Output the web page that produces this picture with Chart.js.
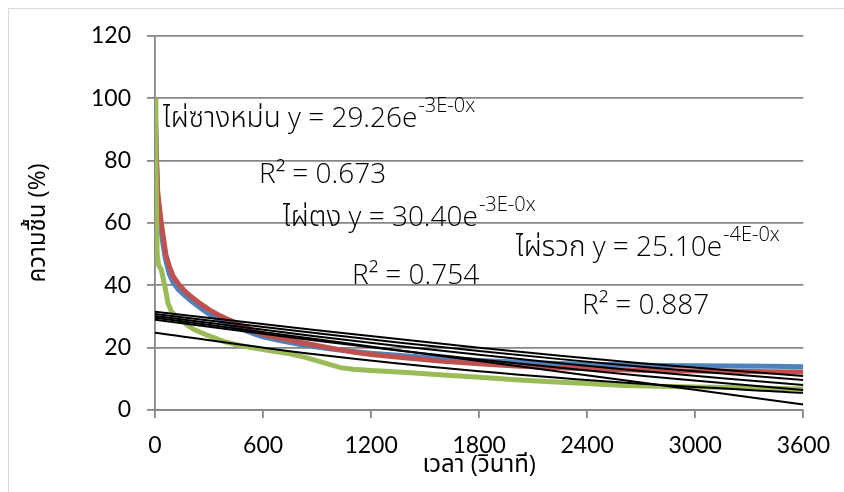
<!DOCTYPE html>
<html><head><meta charset="utf-8">
<script src="https://cdn.jsdelivr.net/npm/chart.js@4.4.0/dist/chart.umd.min.js"></script>
<style>html,body{margin:0;padding:0;background:#fff;}#wrap{width:844px;height:492px;}</style>
</head><body><div id="wrap"><canvas id="c" width="844" height="492"></canvas></div>
<script>
// ---- data ----
const blueTime  = [0, 8, 15, 25, 35, 45, 60, 80, 100, 130, 160, 200, 250, 300, 350, 400, 450, 500, 550, 600, 700, 800, 900, 1000, 1100, 1200, 1400, 1600, 1800, 2000, 2200, 2400, 2600, 2800, 3000, 3200, 3400, 3600];
const blueValue = [100, 80, 68, 62, 57, 53, 48, 43.5, 41, 38.6, 37, 35, 32.8, 30.8, 29.2, 27.8, 26.6, 25.5, 24.4, 23.5, 22.2, 21.1, 20.2, 19.4, 18.8, 18.2, 17.3, 16.5, 15.9, 15.4, 15.0, 14.7, 14.5, 14.3, 14.2, 14.1, 14.0, 13.9];
const redTime   = [0, 8, 15, 25, 35, 45, 60, 80, 100, 130, 160, 200, 250, 300, 350, 400, 450, 500, 550, 600, 700, 800, 900, 1000, 1100, 1200, 1400, 1600, 1800, 2000, 2200, 2400, 2600, 2800, 3000, 3200, 3400, 3600];
const redValue  = [100, 82, 70, 65, 60, 56, 50, 46, 43, 40.5, 38.5, 36.4, 34.2, 32.2, 30.6, 29.2, 28.0, 26.6, 25.3, 24.3, 23.0, 21.8, 20.7, 19.6, 18.6, 17.8, 16.7, 15.6, 14.8, 14.1, 13.6, 13.2, 12.9, 12.6, 12.5, 12.4, 12.3, 12.2];
const greenTime = [0, 5, 12, 20, 35, 55, 72, 91, 120, 146, 180, 220, 290, 380, 470, 560, 650, 750, 840, 935, 1030, 1100, 1200, 1400, 1600, 1800, 2000, 2200, 2400, 2600, 2800, 3000, 3200, 3400, 3600];
const greenValue= [100, 80, 50, 46.5, 45, 39.6, 34.3, 31.6, 30.0, 28.9, 27.2, 25.7, 24.0, 22.0, 20.7, 19.8, 18.9, 18.0, 16.8, 15.2, 13.6, 13.1, 12.7, 12.0, 11.2, 10.5, 9.7, 9.1, 8.5, 7.9, 7.6, 7.4, 7.2, 7.0, 6.7];
const trendTime = [0, 900, 1800, 2700, 3600];
const trendA = [31.5, 25.6, 20.0, 15.0, 10.9];
const trendB = [30.8, 24.6, 18.9, 13.9, 9.6];
const trendC = [30.2, 23.6, 17.7, 12.5, 8.0];
const trendD = [29.6, 22.7, 15.7, 8.8, 1.8];
const trendE = [29.0, 22.2, 16.2, 11.0, 6.4];
const trendF = [24.8, 17.8, 12.4, 8.4, 5.5];
const xTicks = [0, 600, 1200, 1800, 2400, 3000, 3600];
const yTicks = [0, 20, 40, 60, 80, 100, 120];
const xTitle = 'เวลา (วินาที)';
const yTitle = 'ความชื้น (%)';
const labels = [
  {text: 'ไผ่ซางหม่น y = 29.26e', sup: '-3E-0x'},
  {text: 'R² = 0.673'},
  {text: 'ไผ่ตง y = 30.40e', sup: '-3E-0x'},
  {text: 'ไผ่รวก y = 25.10e', sup: '-4E-0x'},
  {text: 'R² = 0.754'},
  {text: 'R² = 0.887'}
];
// ---- layout (not data) ----
const labelPos = [[163,127],[259,183],[283,226],[516,256],[352,284],[582,314]];
const thaiFonts = '"Open Sans", "Noto Sans Thai", "Noto Sans Thai Looped", "Loma", "Garuda", "Norasi", "Kinnari", "Sawasdee", "Umpush", "Tlwg Typist", sans-serif';

const pts = (t, v) => t.map((x, i) => ({x: x, y: v[i]}));
const trendDs = [trendA, trendB, trendC, trendD, trendE, trendF].map(v => ({
  data: pts(trendTime, v), borderColor: '#000', borderWidth: 2, pointRadius: 0,
  showLine: true, tension: 0.3, order: 0
}));

const annotPlugin = {
  id: 'annot',
  beforeDraw(chart) {
    const ctx = chart.ctx;
    ctx.save();
    ctx.fillStyle = '#fff';
    ctx.fillRect(0, 0, chart.width, chart.height);
    ctx.strokeStyle = '#d9d9d9';
    ctx.lineWidth = 1;
    ctx.strokeRect(8.5, 8.5, 900, 600);
    ctx.restore();
  },
  afterDatasetsDraw(chart) {
    const ctx = chart.ctx;
    ctx.save();
    ctx.fillStyle = '#000';
    ctx.textBaseline = 'alphabetic';
    labels.forEach((l, i) => {
      const [x, y] = labelPos[i];
      ctx.font = '300 28px ' + thaiFonts;
      ctx.fillText(l.text, x, y);
      if (l.sup) {
        const w = ctx.measureText(l.text).width;
        ctx.font = '300 20px ' + thaiFonts;
        ctx.fillText(l.sup, x + w + 1, y - 15);
      }
    });
    ctx.restore();
  }
};

new Chart(document.getElementById('c'), {
  type: 'scatter',
  data: {
    datasets: [
      ...trendDs,
      {data: pts(greenTime, greenValue), borderColor: '#9BBB59', borderWidth: 5, pointRadius: 0, showLine: true, order: 1},
      {data: pts(redTime, redValue), borderColor: '#C0504D', borderWidth: 5, pointRadius: 0, showLine: true, order: 2},
      {data: pts(blueTime, blueValue), borderColor: '#4F81BD', borderWidth: 5, pointRadius: 0, showLine: true, order: 3}
    ]
  },
  options: {
    responsive: false,
    animation: false,
    layout: {padding: {left: 0, right: 40, top: 36, bottom: 0}},
    plugins: {legend: {display: false}, tooltip: {enabled: false}},
    scales: {
      x: {
        type: 'linear', min: 0, max: 3600,
        afterBuildTicks: s => { s.ticks = xTicks.map(v => ({value: v})); },
        afterFit: s => { s.height = 82; },
        grid: {drawOnChartArea: false, color: '#868686', lineWidth: 1.8, tickLength: 8},
        border: {color: '#868686', width: 1.8},
        ticks: {color: '#000', font: {family: 'Lato', size: 23}, padding: 14, maxRotation: 0, callback: v => String(v)},
        title: {display: true, text: xTitle, color: '#000', font: {family: thaiFonts, size: 24, weight: 'normal'}, padding: {top: 0, bottom: 12}}
      },
      y: {
        min: 0, max: 120,
        afterBuildTicks: s => { s.ticks = yTicks.map(v => ({value: v})); },
        afterFit: s => { s.width = 155; },
        grid: {color: '#868686', lineWidth: 1.8, tickLength: 8},
        border: {color: '#868686', width: 1.8},
        ticks: {color: '#000', font: {family: 'Lato', size: 23}, padding: 16, callback: v => String(v)},
        title: {display: true, text: yTitle, color: '#000', font: {family: thaiFonts, size: 24, weight: 'normal'}, padding: {top: 24, bottom: 0}}
      }
    }
  },
  plugins: [annotPlugin]
});
</script></body></html>
